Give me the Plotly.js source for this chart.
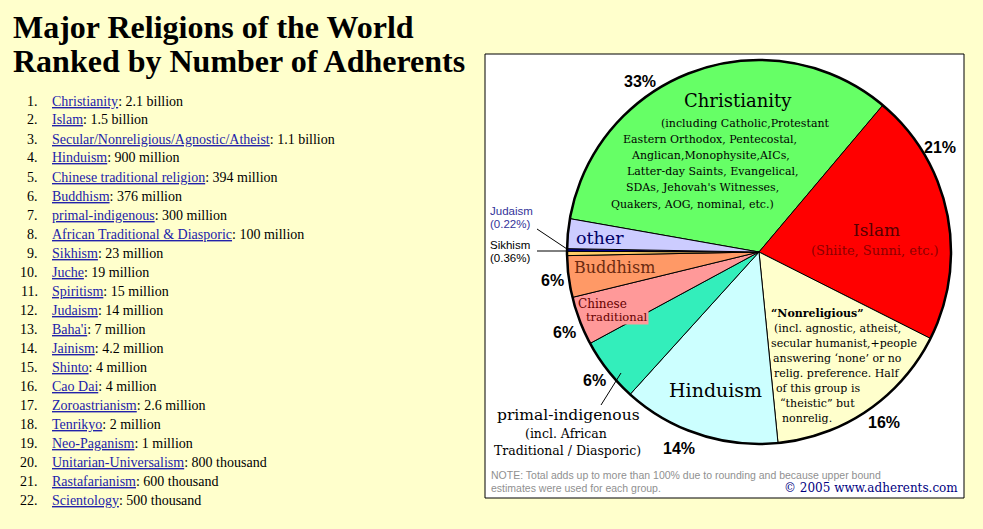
<!DOCTYPE html>
<html><head><meta charset="utf-8">
<script src="https://cdn.plot.ly/plotly-3.0.1.min.js"></script>
<style>html,body{margin:0;padding:0;background:#FFFFCC;}#chart{width:983px;height:529px;}</style>
</head><body><div id="chart"></div>
<script>
// ---- data ----
const sliceNames = ['Christianity','Islam','Nonreligious','Hinduism','primal-indigenous','Chinese traditional','Buddhism','Sikhism','Judaism','other'];
const sliceValues = [33.4, 21.3, 16.0, 13.3, 5.4, 4.1, 3.5, 0.36, 0.22, 2.5];
const sliceColors = ['#66FF66','#FF0000','#FFFFCC','#CCFFFF','#33EEBB','#FF9999','#FF9966','#FFCC66','#000099','#CCCCFF'];
const pctLabels = ['33%','21%','16%','14%','6%','6%','6%'];

const listNames = ['Christianity','Islam','Secular/Nonreligious/Agnostic/Atheist','Hinduism','Chinese traditional religion','Buddhism','primal-indigenous','African Traditional &amp; Diasporic','Sikhism','Juche','Spiritism','Judaism',"Baha'i",'Jainism','Shinto','Cao Dai','Zoroastrianism','Tenrikyo','Neo-Paganism','Unitarian-Universalism','Rastafarianism','Scientology'];
const listAmounts = ['2.1 billion','1.5 billion','1.1 billion','900 million','394 million','376 million','300 million','100 million','23 million','19 million','15 million','14 million','7 million','4.2 million','4 million','4 million','2.6 million','2 million','1 million','800 thousand','600 thousand','500 thousand'];

const christianityLines = ['(including Catholic,Protestant','Eastern Orthodox, Pentecostal,','Anglican,Monophysite,AICs,','Latter-day Saints, Evangelical,','SDAs, Jehovah\'s Witnesses,','Quakers, AOG, nominal, etc.)'];
const nonrelLines = ['<b>“Nonreligious”</b>','(incl. agnostic, atheist,','secular humanist,+people','answering ‘none’ or no','relig. preference. Half','of this group is','“theistic” but','nonrelig.'];

// ---- helpers ----
const W = 983, H = 529;
const px = x => x / W;
const py = y => 1 - y / H;
const SERIF = 'DejaVu Serif';
const SANS = 'Liberation Sans, Arial';
function t(text, x, y, size, opts) {
  opts = opts || {};
  return {
    text: text, xref: 'paper', yref: 'paper', x: px(x), y: py(y),
    xanchor: opts.xanchor || 'center', yanchor: 'middle', showarrow: false,
    align: opts.align || 'center',
    font: {family: opts.family || SERIF, size: size, color: opts.color || '#000'},
    bgcolor: opts.bgcolor, borderpad: 0
  };
}

const annotations = [];
// Title
annotations.push(t('<b>Major Religions of the World</b>', 12, 27, 32, {xanchor:'left', family:'Liberation Serif'}));
annotations.push(t('<b>Ranked by Number of Adherents</b>', 12, 61, 32, {xanchor:'left', family:'Liberation Serif'}));
// List
listNames.forEach((n, i) => {
  const y = 101 + i * 19;
  annotations.push(t((i + 1) + '.', 39, y, 14, {xanchor:'right', family:'Liberation Serif'}));
  annotations.push(t('<span style="color:#2222AA"><u>' + n + '</u></span>: ' + listAmounts[i], 51, y, 14, {xanchor:'left', family:'Liberation Serif'}));
});

// Pie labels
annotations.push(t('Christianity', 738, 100, 18));
const chX = [745, 710, 710, 712, 702, 692];
christianityLines.forEach((l, i) => annotations.push(t(l, chX[i], 123 + i * 16.2, 11)));
annotations.push(t('Islam', 876, 230, 17, {color:'#550000'}));
annotations.push(t('(Shiite, Sunni, etc.)', 875, 250, 13, {color:'#8B0000'}));
annotations.push(t('other', 600, 238, 17.5, {color:'#000066'}));
annotations.push(t('Buddhism', 614, 267, 16, {color:'#6B2A10'}));
annotations.push(t('Chinese', 602, 304, 12, {color:'#660000'}));
annotations.push(t('traditional', 617, 317, 11.5, {color:'#660000', bgcolor:'#FF9999'}));
annotations.push(t('Hinduism', 715, 390, 19));
nonrelLines.forEach((l, i) => annotations.push(t(l, 770 + [0,3,0,2,3,5,9,11][i], 313 + i * 15.1, 11, {xanchor:'left'})));
annotations.push(t('primal-indigenous', 568, 415, 15.5));
annotations.push(t('(incl. African', 566, 433, 12.5));
annotations.push(t('Traditional / Diasporic)', 567, 450, 12.5));

// Percent labels
const pctPos = [[640,81],[940,147],[884,422],[679,448],[594,380],[564,332],[552,280]];
pctLabels.forEach((p, i) => annotations.push(t('<b>' + p + '</b>', pctPos[i][0], pctPos[i][1], 16, {family:SANS})));

// Small-slice labels
annotations.push(t('Judaism', 489, 211, 11.5, {xanchor:'left', family:SANS, color:'#333399'}));
annotations.push(t('(0.22%)', 489, 224, 11.5, {xanchor:'left', family:SANS, color:'#333399'}));
annotations.push(t('Sikhism', 489, 245, 11.5, {xanchor:'left', family:SANS}));
annotations.push(t('(0.36%)', 489, 258, 11.5, {xanchor:'left', family:SANS}));

// Note and copyright
annotations.push(t('NOTE: Total adds up to more than 100% due to rounding and because upper bound', 490, 475, 10.5, {xanchor:'left', family:SANS, color:'#909090'}));
annotations.push(t('estimates were used for each group.', 490, 488, 10.5, {xanchor:'left', family:SANS, color:'#909090'}));
annotations.push(t('© 2005 www.adherents.com', 959, 488, 12, {xanchor:'right', color:'#000080'}));

const shapes = [
  {type:'rect', xref:'paper', yref:'paper', x0:px(485), x1:px(964), y0:py(498), y1:py(54), fillcolor:'#FFFFFF', line:{color:'#000', width:1}, layer:'below'},
  {type:'line', xref:'paper', yref:'paper', x0:px(537), y0:py(229), x1:px(567), y1:py(249), line:{color:'#000', width:1}},
  {type:'line', xref:'paper', yref:'paper', x0:px(537), y0:py(251), x1:px(567), y1:py(251), line:{color:'#000', width:1}},
  {type:'line', xref:'paper', yref:'paper', x0:px(601), y0:py(405), x1:px(621), y1:py(373), line:{color:'#000', width:1}}
];

const cx = 759, cy = 252, r = 192;
const domain = {x:[px(cx - r), px(cx + r)], y:[py(cy + r), py(cy - r)]};

const data = [
  {type:'pie', labels:sliceNames, values:sliceValues, sort:false, direction:'clockwise', rotation:280,
   marker:{colors:sliceColors, line:{color:'#000', width:1}}, textinfo:'none', hoverinfo:'label+percent',
   domain:domain, showlegend:false},
  {type:'pie', labels:['outline'], values:[1], sort:false, textinfo:'none', hoverinfo:'skip',
   marker:{colors:['rgba(0,0,0,0)'], line:{color:'#000', width:2.5}}, domain:domain, showlegend:false}
];

const layout = {
  width: W, height: H, margin:{l:0, r:0, t:0, b:0},
  paper_bgcolor:'#FFFFCC', plot_bgcolor:'#FFFFCC',
  showlegend:false, annotations:annotations, shapes:shapes
};
Plotly.newPlot('chart', data, layout, {displayModeBar:false, staticPlot:true});
</script></body></html>
